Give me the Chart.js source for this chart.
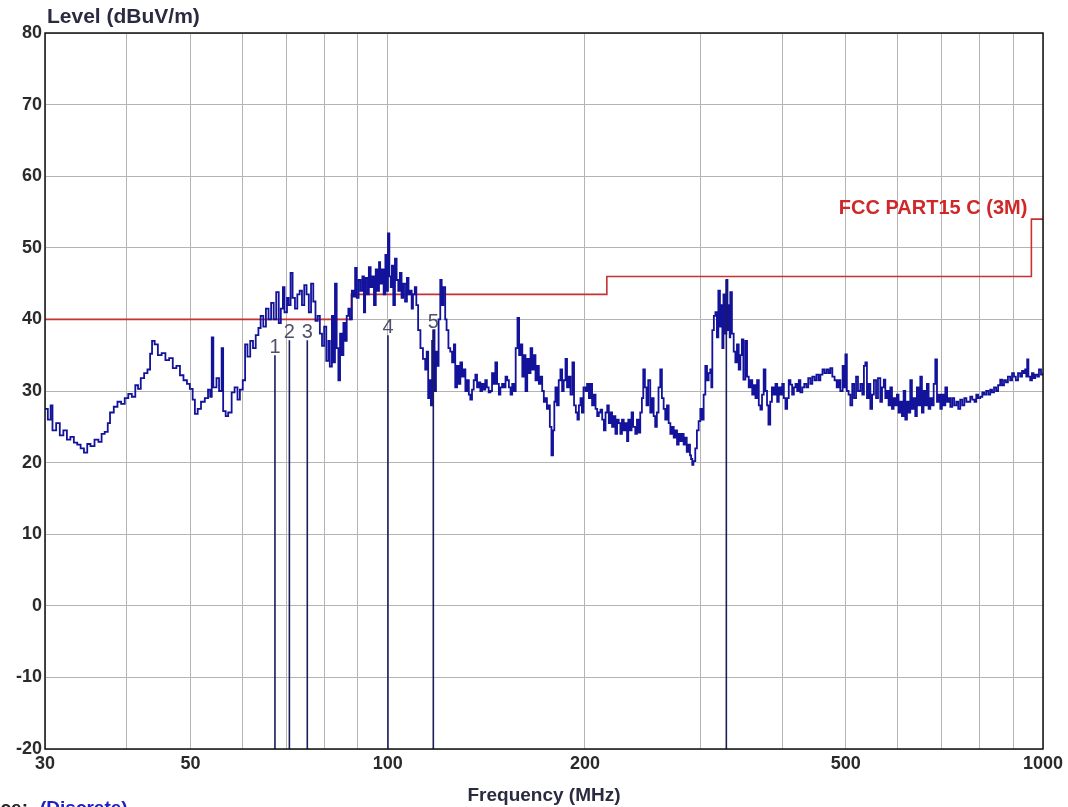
<!DOCTYPE html>
<html>
<head>
<meta charset="utf-8">
<script src="https://cdn.jsdelivr.net/npm/chart.js@4"></script>
<style>
  body { margin: 0; background: #fff; }
  #wrap { position: relative; width: 1068px; height: 807px; }
</style>
</head>
<body>
<div id="wrap"><canvas id="c1"></canvas></div>
<script>
// scan trace (MHz / dBuV/m)
var traceFreq = [
  30.0,30.3,30.6,30.8,31.2,31.6,32.0,32.4,32.8,33.2,33.6,34.0,34.4,34.8,35.2,35.7,36.2,36.6,37.0,37.4,
  37.7,38.2,38.7,39.2,39.7,40.2,40.7,41.2,41.6,42.0,42.5,43.0,43.4,43.7,44.1,44.6,45.2,45.8,46.4,47.0,
  47.6,48.2,48.8,49.4,49.9,50.4,50.8,51.3,51.9,52.6,53.2,53.6,53.9,54.2,54.8,55.3,55.8,56.1,56.6,57.1,
  57.8,58.4,59.0,59.5,60.1,60.6,61.1,61.7,62.3,62.9,63.5,64.0,64.6,65.2,65.8,66.4,67.0,67.6,68.2,68.7,
  69.2,69.6,70.2,70.6,71.1,71.6,72.2,72.8,73.4,74.0,74.6,75.2,75.8,76.4,77.0,77.6,78.2,78.8,79.4,80.0,
  80.6,81.2,81.6,82.2,82.6,83.1,83.6,84.1,84.6,85.1,85.6,86.1,86.6,87.1,87.6,88.2,88.7,89.2,89.7,90.3,
  90.9,91.5,92.0,92.4,93.0,93.6,94.2,94.7,95.3,95.9,96.5,97.0,97.4,98.0,98.6,99.2,99.6,100.1,100.6,101.1,
  101.5,102.0,102.6,103.2,103.8,104.4,105.0,105.6,106.3,107.0,107.6,108.2,108.8,109.3,110.0,110.6,111.3,112.2,113.2,114.1,
  114.7,115.3,115.9,116.4,116.9,117.4,117.9,118.5,119.0,119.6,120.3,120.9,121.6,122.4,123.0,123.8,124.6,125.4,126.2,126.8,
  127.6,128.4,129.1,129.9,130.6,131.4,132.2,133.0,133.7,134.5,135.3,136.1,136.9,137.7,138.5,139.3,140.1,140.9,141.7,142.6,
  143.5,144.3,145.2,146.0,146.9,147.8,148.6,149.5,150.4,151.3,152.2,153.1,154.0,154.9,155.8,156.8,157.8,158.7,159.5,160.5,
  161.4,162.3,163.3,164.2,165.2,166.2,167.1,168.1,169.1,170.1,171.1,172.1,173.1,174.1,175.0,175.9,176.8,177.8,178.8,179.6,
  180.3,181.3,182.4,183.5,184.6,185.6,186.8,187.8,189.0,190.1,191.4,192.5,193.7,194.8,195.8,196.9,197.9,199.0,200.4,201.5,
  202.8,203.9,205.1,206.3,207.6,208.8,210.0,211.2,212.5,213.8,215.0,216.3,217.5,218.7,220.0,221.3,222.6,223.9,225.2,226.5,
  227.8,229.2,230.5,231.9,232.9,234.2,235.6,236.9,238.7,240.1,241.5,242.9,244.3,245.5,246.9,248.3,249.8,251.6,253.1,254.6,
  256.0,257.5,259.0,260.6,262.1,263.7,265.2,266.8,268.4,270.0,271.6,273.2,274.8,276.4,278.0,279.6,281.2,282.9,284.6,286.0,
  287.6,289.3,290.4,291.6,292.8,294.7,296.4,298.2,300.0,301.8,303.5,305.3,307.1,308.9,310.7,311.8,312.9,314.6,316.3,318.0,
  319.6,321.4,322.6,324.1,325.4,326.8,328.7,330.0,331.4,332.6,333.3,335.2,337.3,339.3,341.2,343.3,345.3,347.1,349.0,351.4,
  353.5,355.6,357.7,360.0,362.0,364.1,366.2,368.4,370.5,372.6,374.8,377.1,379.2,381.1,383.5,385.8,388.2,390.6,393.0,395.2,
  397.5,400.0,402.3,404.6,407.0,409.3,411.7,414.2,416.7,419.1,421.6,424.0,426.4,429.3,432.2,435.4,438.3,441.6,444.6,448.0,
  451.1,454.4,457.4,460.8,464.0,467.4,470.6,473.7,477.0,480.8,484.4,487.5,490.6,494.6,497.0,499.4,502.0,505.0,508.2,511.6,
  515.0,518.5,522.0,526.4,530.0,533.0,535.7,538.7,542.0,545.2,548.6,552.0,556.2,560.0,564.6,568.0,571.6,574.6,578.0,581.3,
  584.8,588.2,591.6,595.1,598.5,602.0,605.7,609.2,612.8,616.4,620.0,623.6,627.3,630.9,634.6,638.4,642.0,645.8,649.8,653.5,
  657.2,661.3,665.0,669.0,673.0,677.0,681.0,685.0,689.0,693.0,697.1,701.0,705.0,709.5,714.0,718.0,722.1,727.0,732.0,737.5,
  742.5,747.7,753.0,758.5,764.0,769.0,774.5,780.0,786.0,791.0,796.0,802.1,808.0,813.0,819.0,825.0,830.7,836.0,842.0,848.0,
  854.0,860.4,866.0,872.0,878.0,884.0,891.1,897.0,903.0,909.0,916.0,923.0,929.0,935.0,939.3,943.0,946.0,950.0,956.0,962.0,
  967.0,973.0,980.0,986.0,993.0,1000.0
];
var traceLevel = [
  27.5,26.0,28.0,24.5,25.5,23.8,24.5,23.2,23.6,22.8,22.5,22.0,21.4,22.6,22.3,23.2,22.9,24.0,24.3,25.5,
  27.0,27.8,28.5,28.2,29.0,29.6,29.2,30.8,30.3,31.8,32.5,33.0,35.2,37.0,36.5,35.0,35.3,34.3,34.6,33.2,
  33.5,32.2,31.5,31.0,30.3,28.8,26.8,27.5,28.5,29.0,30.2,29.2,37.5,30.5,31.8,30.0,36.0,27.2,26.5,27.0,
  29.8,30.5,28.8,30.2,31.5,36.5,34.8,37.0,36.0,37.8,38.8,40.5,39.0,41.5,40.0,42.3,40.0,43.8,39.5,41.5,
  44.5,41.0,43.0,42.0,46.5,43.0,41.5,43.5,44.0,42.0,44.8,43.5,41.0,45.0,42.5,39.8,40.5,38.0,36.3,39.0,
  34.2,37.0,33.4,40.5,34.0,45.0,36.0,31.5,38.0,35.0,39.5,37.0,40.5,41.5,40.0,44.0,43.2,47.2,43.0,45.5,
  44.0,46.0,41.0,45.8,43.5,47.3,44.5,46.0,42.0,47.0,44.0,48.0,45.0,47.0,43.5,49.0,44.0,52.0,46.0,44.5,
  47.5,42.0,48.5,45.5,44.0,46.5,43.0,45.0,42.5,45.8,43.5,44.0,41.5,43.5,44.5,42.0,38.5,36.0,34.5,33.0,
  35.5,29.0,31.5,28.0,37.0,38.5,30.0,35.5,33.5,40.0,45.5,42.0,44.5,40.0,38.5,36.0,35.5,34.0,36.5,30.5,
  33.5,31.0,34.0,32.0,33.0,30.0,31.5,29.5,28.8,30.2,31.5,32.3,30.5,31.2,30.0,31.0,30.2,31.5,30.5,29.8,
  30.0,32.5,31.0,34.0,31.0,29.5,30.5,31.0,30.5,32.0,31.5,30.5,29.5,31.0,30.0,36.0,40.2,35.0,36.5,32.0,
  35.0,30.0,34.5,32.5,36.0,33.0,35.0,31.5,33.5,31.0,32.0,30.0,28.5,29.0,27.5,28.0,25.0,21.0,24.5,28.5,
  30.5,28.0,31.5,33.0,30.0,31.5,34.5,30.5,32.0,29.5,34.0,28.0,27.0,26.0,28.0,29.0,27.0,30.5,30.0,31.0,
  29.0,31.0,28.0,29.5,27.5,26.5,27.0,27.4,26.0,24.5,27.0,28.0,25.5,27.0,25.0,26.5,24.0,26.0,25.5,24.0,
  26.0,24.5,25.5,23.0,26.0,24.5,27.0,25.0,24.0,26.0,24.2,27.0,29.0,33.0,30.5,28.0,31.5,27.0,29.0,26.5,
  25.0,27.0,30.5,33.0,29.0,27.5,26.0,28.0,25.5,24.0,25.0,23.5,24.5,22.5,24.0,23.0,24.0,22.5,23.5,21.5,
  22.5,21.0,20.5,19.7,20.2,22.0,24.5,25.8,27.5,26.0,29.5,33.5,31.5,32.5,33.0,30.5,38.5,40.5,41.0,37.5,
  44.0,39.0,42.0,36.0,43.5,38.0,45.5,38.5,42.0,37.5,43.8,38.0,35.5,34.0,36.5,33.0,35.0,37.2,31.6,37.0,
  32.0,30.5,31.5,29.5,30.8,29.0,31.5,28.0,27.4,29.5,33.0,30.0,28.0,25.3,28.5,30.5,29.5,31.0,28.5,30.5,
  29.5,31.0,29.0,27.5,29.0,31.5,30.9,29.5,30.5,31.0,30.0,31.5,29.8,30.5,31.0,30.5,31.8,31.0,32.0,31.5,
  32.3,31.5,32.3,33.0,32.5,33.0,32.5,33.2,32.0,31.5,30.5,31.5,30.0,33.5,30.5,35.1,30.0,29.5,28.0,31.0,
  29.0,32.0,30.0,31.0,29.5,33.5,34.0,29.0,31.0,27.5,29.5,31.5,29.0,31.8,28.5,30.5,31.6,29.0,30.0,28.0,
  30.5,27.5,29.0,28.0,29.5,27.0,28.5,26.5,30.0,26.0,28.5,27.0,31.5,27.5,29.0,26.5,30.5,28.0,32.0,27.0,
  30.0,28.0,31.0,27.5,29.0,28.0,31.0,34.4,28.5,29.5,27.5,29.5,28.0,30.5,28.5,29.0,27.8,29.0,28.0,28.5,
  27.5,28.8,28.0,29.0,28.5,28.5,29.2,28.8,28.5,29.5,29.0,29.2,29.8,29.5,30.0,29.5,30.2,29.8,30.5,30.0,
  30.8,31.6,30.8,31.5,31.2,32.0,31.5,32.5,32.0,31.5,32.5,32.0,32.8,32.5,33.0,32.0,34.4,32.0,31.5,32.5,
  31.8,32.3,32.0,33.0,32.3,32.5
];

// FCC Part 15 C (3 m) limit
var limitFreq = [30, 88, 88, 216, 216, 960, 960, 1000];
var limitLevel = [40, 40, 43.5, 43.5, 46, 46, 54, 54];

// marker lines
var markerName = ["1", "2", "3", "4", "5", ""];
var markerFreq = [67.3, 70.8, 75.4, 100.1, 117.4, 328.7];
var markerLevel = [35.0, 37.1, 37.1, 37.8, 38.5, 45.5];

var xGrid = [30, 40, 50, 60, 70, 80, 90, 100, 200, 300, 400, 500, 600, 700, 800, 900, 1000];
var xLabels = [30, 50, 100, 200, 500, 1000];

var FONT = "Liberation Sans";

function pts(xs, ys) {
  var out = [];
  for (var i = 0; i < xs.length; i++) out.push({ x: xs[i], y: ys[i] });
  return out;
}

var markerPts = [];
for (var i = 0; i < markerFreq.length; i++) {
  markerPts.push({ x: markerFreq[i], y: -20 });
  markerPts.push({ x: markerFreq[i], y: markerLevel[i] });
  markerPts.push({ x: markerFreq[i], y: null });
}

var textPlugin = {
  id: "texts",
  afterDraw: function (chart) {
    var ctx = chart.ctx;
    var xs = chart.scales.x, ys = chart.scales.y;
    var a = chart.chartArea;
    ctx.save();
    // frame
    ctx.strokeStyle = "#111";
    ctx.lineWidth = 1.5;
    ctx.strokeRect(a.left, a.top, a.right - a.left, a.bottom - a.top);

    ctx.font = "bold 21px '" + FONT + "'";
    ctx.textBaseline = "alphabetic";
    ctx.textAlign = "left";
    ctx.fillStyle = "#2a2a40";
    ctx.fillText("Level (dBuV/m)", 47, 23);

    // limit name
    ctx.font = "bold 20px '" + FONT + "'";
    ctx.fillStyle = "#d02828";
    ctx.textAlign = "right";
    ctx.fillText("FCC PART15 C (3M)", xs.getPixelForValue(limitFreq[6]) - 4, ys.getPixelForValue(limitLevel[6]) - 5);

    // marker numbers
    ctx.font = "20px '" + FONT + "'";
    ctx.textAlign = "center";
    ctx.fillStyle = "#50506a";
    for (var i = 0; i < markerName.length; i++) {
      if (!markerName[i]) continue;
      ctx.fillText(markerName[i], xs.getPixelForValue(markerFreq[i]), ys.getPixelForValue(markerLevel[i]) - 2);
    }

    // trace caption, cut by the page edge
    ctx.font = "bold 19px '" + FONT + "'";
    ctx.textAlign = "left";
    ctx.fillStyle = "#222";
    ctx.fillText("Trace:", -28, 814);
    ctx.fillStyle = "#2020c0";
    ctx.fillText("(Discrete)", 40, 814);
    ctx.restore();
  }
};

var ctx = document.getElementById("c1").getContext("2d");
var chart = new Chart(ctx, {
  type: "line",
  data: {
    datasets: [
      {
        data: pts(limitFreq, limitLevel),
        borderColor: "#c83232",
        borderWidth: 1.6,
        pointRadius: 0,
        order: 2
      },
      {
        data: pts(traceFreq, traceLevel),
        borderColor: "#12129a",
        borderWidth: 1.8,
        pointRadius: 0,
        stepped: true,
        order: 1
      },
      {
        data: markerPts,
        borderColor: "#1c1c5c",
        borderWidth: 1.6,
        pointRadius: 0,
        spanGaps: false,
        order: 0
      }
    ]
  },
  options: {
    responsive: true,
    maintainAspectRatio: false,
    animation: false,
    layout: { padding: { top: 33, right: 25, left: 0, bottom: 0 } },
    plugins: { legend: { display: false }, tooltip: { enabled: false } },
    scales: {
      x: {
        type: "logarithmic",
        min: 30,
        max: 1000,
        afterBuildTicks: function (s) {
          s.ticks = xGrid.map(function (v) { return { value: v }; });
        },
        afterFit: function (s) { s.height = 58; },
        ticks: {
          autoSkip: false,
          maxRotation: 0,
          padding: 4,
          color: "#2a2a2a",
          font: { family: FONT, size: 18, weight: "bold" },
          callback: function (v) { return xLabels.indexOf(v) >= 0 ? String(v) : ""; }
        },
        grid: { color: "#b4b4b4", lineWidth: 1, drawTicks: false },
        border: { display: false },
        title: {
          display: true,
          text: "Frequency (MHz)",
          color: "#2a2a40",
          font: { family: FONT, size: 19, weight: "bold" },
          padding: { top: 2, bottom: 0 }
        }
      },
      y: {
        min: -20,
        max: 80,
        afterFit: function (s) { s.width = 45; },
        ticks: {
          stepSize: 10,
          padding: 3,
          color: "#2a2a2a",
          font: { family: FONT, size: 18, weight: "bold" }
        },
        grid: { color: "#b4b4b4", lineWidth: 1, drawTicks: false },
        border: { display: false }
      }
    }
  },
  plugins: [textPlugin]
});
</script>
</body>
</html>
